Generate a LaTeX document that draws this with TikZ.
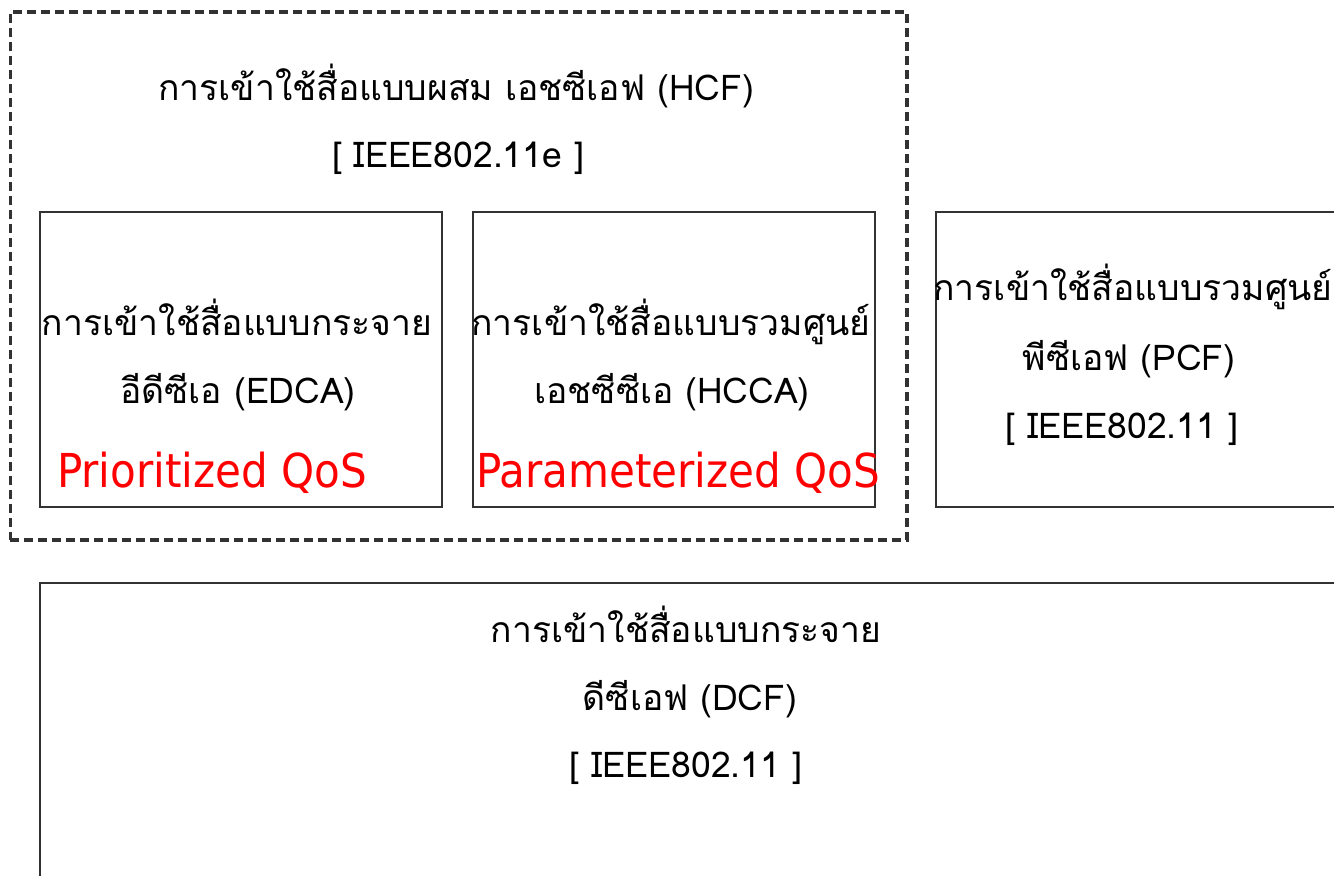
\documentclass[tikz,border=0pt]{standalone}
\usepackage{fontspec}
\newfontfamily\thaifont[Script=Thai]{Loma}
\newfontfamily\qosfont[FakeStretch=0.9]{DejaVu Sans}
\definecolor{myline}{RGB}{50,50,50}
\definecolor{myred}{RGB}{255,0,0}

\begin{document}
\begin{tikzpicture}[x=0.02cm,y=-0.02cm,
  every node/.style={inner sep=0pt,outer sep=0pt},
  box/.style={draw=myline,line width=1.1pt},
  hcfbox/.style={draw=myline,line width=1.8pt,dash pattern=on 0.18cm off 0.1cm},
  thai/.style={font=\thaifont\fontsize{20.2}{24}\selectfont,anchor=base},
  qos/.style={font=\qosfont\fontsize{26.6}{30}\selectfont,text=myred,anchor=base west}
]
\clip (0,0) rectangle (1334,875);

% Boxes
\node[hcfbox,minimum width=17.94cm,minimum height=10.56cm] (hcf) at (458.5,276) {};
\node[box,minimum width=8.04cm,minimum height=5.9cm] (edca) at (241,359.5) {};
\node[box,minimum width=8.04cm,minimum height=5.9cm] (hcca) at (674,359.5) {};
\node[box,minimum width=8.12cm,minimum height=5.9cm] (pcf) at (1139,359.5) {};
\node[box,minimum width=26.04cm,minimum height=6.14cm] (dcf) at (691,736.5) {};

% HCF
\node[thai] (hcf1) at (456,100) {การเข้าใช้สื่อแบบผสม เอชซีเอฟ (HCF)};
\node[thai] (hcf2) at (458,167) {[ IEEE802.11e ]};

% EDCA
\node[thai] (edca1) at (237,335) {การเข้าใช้สื่อแบบกระจาย};
\node[thai] (edca2) at (238,403) {อีดีซีเอ (EDCA)};
\node[qos] (edca3) at (57,487) {Prioritized QoS};

% HCCA
\node[thai] (hcca1) at (671,335) {การเข้าใช้สื่อแบบรวมศูนย์};
\node[thai] (hcca2) at (672,403) {เอชซีซีเอ (HCCA)};
\node[qos] (hcca3) at (476,487) {Parameterized QoS};

% PCF
\node[thai] (pcf1) at (1133,300) {การเข้าใช้สื่อแบบรวมศูนย์};
\node[thai] (pcf2) at (1129,370) {พีซีเอฟ (PCF)};
\node[thai] (pcf3) at (1122,438) {[ IEEE802.11 ]};

% DCF
\node[thai] (dcf1) at (686,642) {การเข้าใช้สื่อแบบกระจาย};
\node[thai] (dcf2) at (690,710) {ดีซีเอฟ (DCF)};
\node[thai] (dcf3) at (686,777) {[ IEEE802.11 ]};
\end{tikzpicture}
\end{document}
